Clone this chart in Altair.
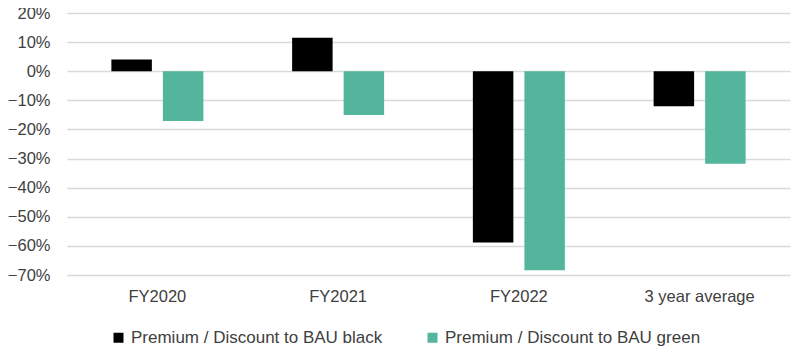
import altair as alt
import pandas as pd

categories = ["FY2020", "FY2021", "FY2022", "3 year average"]
series = ["Premium / Discount to BAU black", "Premium / Discount to BAU green"]
black_values = [0.040, 0.115, -0.588, -0.120]
green_values = [-0.171, -0.150, -0.684, -0.318]
colors = ["#000000", "#53B59B"]

rows = []
for c, b, g in zip(categories, black_values, green_values):
    rows.append({"category": c, "series": series[0], "value": b})
    rows.append({"category": c, "series": series[1], "value": g})
df = pd.DataFrame(rows)

font = "Liberation Sans"
fs = 16.5

chart = alt.Chart(df).mark_bar().encode(
    x=alt.X("category:N", sort=categories, title=None,
            scale=alt.Scale(paddingInner=0.491, paddingOuter=0.2455),
            axis=alt.Axis(labelAngle=0, ticks=False, domain=False, labelPadding=13,
                          labelFontSize=fs, labelColor="#404040", labelFont=font)),
    xOffset=alt.XOffset("series:N", sort=series,
                        scale=alt.Scale(paddingInner=0.214, paddingOuter=0)),
    y=alt.Y("value:Q", title=None,
            scale=alt.Scale(domain=[-0.7, 0.2], nice=False, zero=False),
            axis=alt.Axis(format=".0%", values=[0.2, 0.1, 0, -0.1, -0.2, -0.3, -0.4, -0.5, -0.6, -0.7],
                          ticks=False, domain=False, labelPadding=17,
                          labelFontSize=fs, labelColor="#404040", labelFont=font,
                          gridColor="#D9D9D9", gridWidth=1.5)),
    color=alt.Color("series:N", sort=series, title=None,
                    scale=alt.Scale(domain=series, range=colors),
                    legend=alt.Legend(orient="none", direction="horizontal",
                                      legendX=43, legendY=316,
                                      symbolType="square", symbolSize=100,
                                      symbolStrokeWidth=0, labelOffset=4,
                                      labelLimit=0,
                                      labelFontSize=17, labelColor="#404040", labelFont=font,
                                      columnPadding=41)),
).properties(
    width=723, height=262,
    autosize=alt.AutoSizeParams(type="none"),
    padding={"left": 59, "top": 5, "right": 4, "bottom": 78},
).configure_view(stroke=None)

chart.save("out.html", embed_options={"renderer": "svg", "actions": False})
